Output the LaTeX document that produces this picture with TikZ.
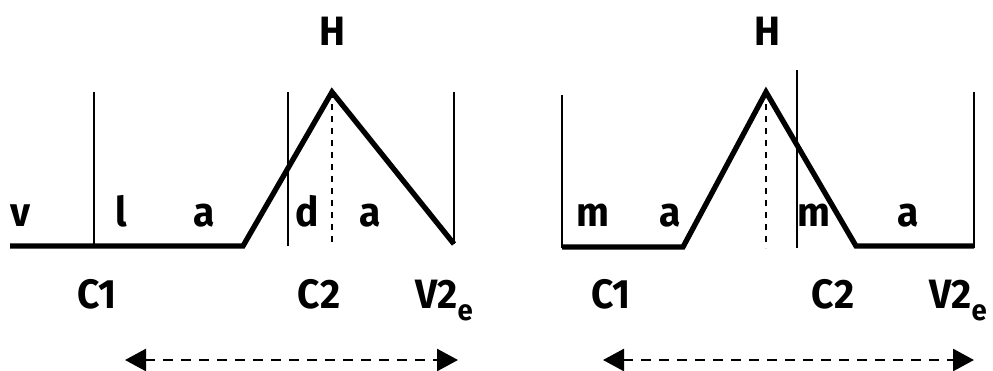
\documentclass[tikz,border=0pt]{standalone}
\usepackage{fontspec}
\setmainfont{Fira Sans}[FakeStretch=0.95]
\usetikzlibrary{arrows.meta}
\begin{document}
\begin{tikzpicture}[x=1pt,y=-1pt,
  lbl/.style={font=\fontsize{41}{44}\selectfont\bfseries, anchor=base, inner sep=0pt},
  thick line/.style={line width=5.3pt, line join=miter},
  thin line/.style={line width=1.3pt},
  dash line/.style={line width=1.7pt, dash pattern=on 6pt off 6pt},
  span/.style={line width=2.7pt, dash pattern=on 10pt off 8pt, {Triangle[length=21pt,width=22pt]}-{Triangle[length=21pt,width=22pt]}}]
\useasboundingbox (0,0) rectangle (993,370);
\newcommand{\vtwo}{V2\raisebox{-12pt}{\fontsize{29}{29}\selectfont e}}
% ---------- left panel ----------
\coordinate (LA) at (10,246);
\coordinate (LB) at (243,246);
\coordinate (LP) at (332,92);
\coordinate (LE) at (454,244);
\draw[thick line] (LA) -- (LB) -- (LP) -- (LE);
\coordinate (L1t) at (94,92);  \coordinate (L1b) at (94,246);
\coordinate (L2t) at (288,92); \coordinate (L2b) at (288,246);
\coordinate (L3t) at (454,92); \coordinate (L3b) at (454,244);
\draw[thin line] (L1t) -- (L1b);
\draw[thin line] (L2t) -- (L2b);
\draw[thin line] (L3t) -- (L3b);
\coordinate (LDb) at (332,246);
\draw[dash line] (LP) -- (LDb);
\node[lbl] (lH) at (332,45) {H};
\node[lbl] (lv) at (20,226) {v};
\node[lbl] (ll) at (121,226) {l};
\node[lbl] (la1) at (204,226) {a};
\node[lbl] (ld) at (307,226) {d};
\node[lbl] (la2) at (370,226) {a};
\node[lbl] (lC1) at (97,308) {C1};
\node[lbl] (lC2) at (319,308) {C2};
\node[lbl, anchor=base west] (lV) at (415,308) {\vtwo};
\coordinate (LArL) at (125,360);
\coordinate (LArR) at (458,360);
\draw[span] (LArL) -- (LArR);
% ---------- right panel ----------
\coordinate (RA) at (562,247);
\coordinate (RB) at (683,247);
\coordinate (RP) at (766,92);
\coordinate (RC) at (856,246);
\coordinate (RE) at (974,246);
\draw[thick line] (RA) -- (RB) -- (RP) -- (RC) -- (RE);
\coordinate (R1t) at (562,95);  \coordinate (R1b) at (562,248);
\coordinate (R2t) at (797,70);  \coordinate (R2b) at (797,248);
\coordinate (R3t) at (974,92);  \coordinate (R3b) at (974,248);
\draw[thin line] (R1t) -- (R1b);
\draw[thin line] (R2t) -- (R2b);
\draw[thin line] (R3t) -- (R3b);
\coordinate (RDb) at (766,248);
\draw[dash line] (RP) -- (RDb);
\node[lbl] (rH) at (767,45) {H};
\node[lbl] (rm1) at (593,226) {m};
\node[lbl] (ra1) at (670,226) {a};
\node[lbl] (rm2) at (814,226) {m};
\node[lbl] (ra2) at (908,226) {a};
\node[lbl] (rC1) at (611,308) {C1};
\node[lbl] (rC2) at (833,308) {C2};
\node[lbl, anchor=base west] (rV) at (929,308) {\vtwo};
\coordinate (RArL) at (603,360);
\coordinate (RArR) at (974,360);
\draw[span] (RArL) -- (RArR);
\end{tikzpicture}
\end{document}
